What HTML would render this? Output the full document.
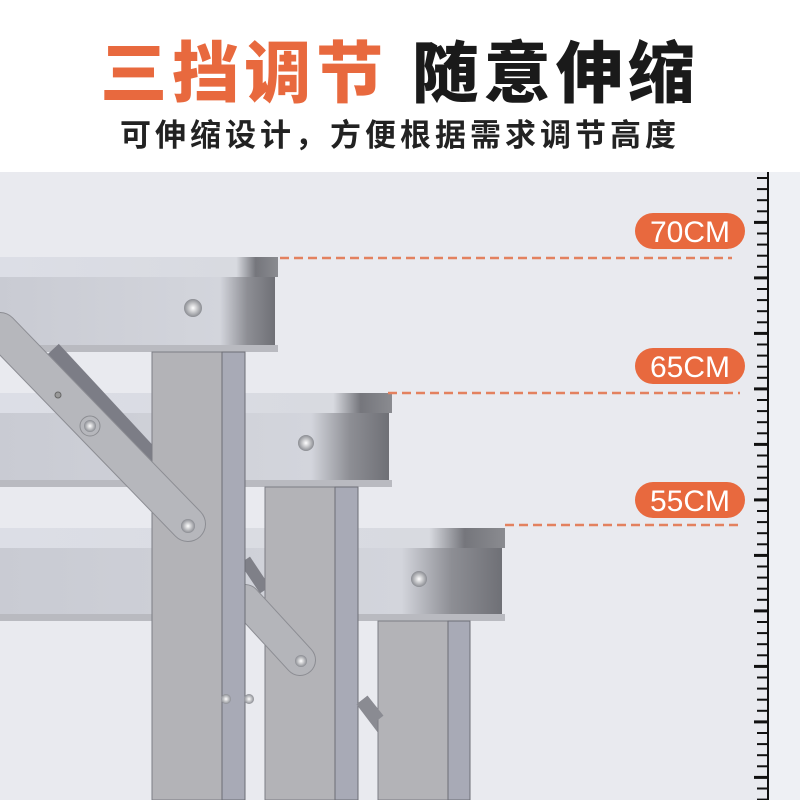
<!DOCTYPE html>
<html><head><meta charset="utf-8"><style>
body{margin:0;width:800px;height:800px;overflow:hidden;background:#e9eaef;font-family:"Liberation Sans","Noto Sans CJK SC",sans-serif}
.top{position:absolute;left:0;top:0;width:800px;height:172px;background:#fff}
.t1{position:absolute;top:20px;left:0;width:800px;text-align:center;font-size:67px;font-weight:900;letter-spacing:5px;white-space:nowrap}
.t2{position:absolute;top:110px;left:0;width:800px;text-align:center;font-size:31px;font-weight:700;letter-spacing:4px;color:#222;white-space:nowrap}
</style></head><body>
<div class="top"></div>
<div class="t1"><span style="color:#e8693e">三挡调节</span>&nbsp;<span style="color:#1a1a1a">随意伸缩</span></div>
<div class="t2">可伸缩设计，方便根据需求调节高度</div>
<svg width="800" height="800" style="position:absolute;left:0;top:0">
<defs>
<linearGradient id="ap" x1="0" x2="1"><stop offset="0" stop-color="#c9cbd3"/><stop offset="0.8" stop-color="#d3d5dc"/><stop offset="0.9" stop-color="#8d8e94"/><stop offset="1" stop-color="#6f7076"/></linearGradient>
<linearGradient id="lip" x1="0" x2="1"><stop offset="0" stop-color="#dcdee6"/><stop offset="0.85" stop-color="#d8dae0"/><stop offset="0.92" stop-color="#75767c"/><stop offset="1" stop-color="#8a8b90"/></linearGradient>
<radialGradient id="bolt"><stop offset="0" stop-color="#fff"/><stop offset="1" stop-color="#8a8c92"/></radialGradient>
</defs>
<rect x="768" y="172" width="32" height="628" fill="#eef0f4"/>
<g>
<rect x="0" y="528" width="505" height="20" fill="url(#lip)"/>
<rect x="0" y="548" width="502" height="66" fill="url(#ap)"/>
<rect x="0" y="614" width="505" height="7" fill="#b9bac0"/>
<circle cx="419" cy="579" r="8" fill="url(#bolt)"/>
<line x1="362" y1="700" x2="430" y2="790" stroke="#8a8b92" stroke-width="14"/>
<rect x="378" y="621" width="70" height="179" fill="#b3b3b7" stroke="#7c7d84"/>
<rect x="448" y="621" width="22" height="179" fill="#a8aab6" stroke="#6d6e76"/>
</g>
<g>
<rect x="0" y="393" width="392" height="20" fill="url(#lip)"/>
<rect x="0" y="413" width="389" height="67" fill="url(#ap)"/>
<rect x="0" y="480" width="392" height="7" fill="#b9bac0"/>
<circle cx="306" cy="443" r="8" fill="url(#bolt)"/>
<line x1="245" y1="560" x2="265" y2="590" stroke="#7f8088" stroke-width="12"/>
<rect x="265" y="487" width="70" height="313" fill="#b3b3b7" stroke="#7c7d84"/>
<rect x="335" y="487" width="23" height="313" fill="#a8aab6" stroke="#6d6e76"/>
<line x1="245" y1="600" x2="300" y2="660" stroke="#8c8d93" stroke-width="32" stroke-linecap="round"/>
<line x1="245" y1="600" x2="300" y2="660" stroke="#b4b5ba" stroke-width="30" stroke-linecap="round"/>
<circle cx="301" cy="661" r="6" fill="url(#bolt)"/>
<line x1="362" y1="700" x2="378" y2="720" stroke="#8a8b92" stroke-width="14"/>
</g>
<g>
<rect x="0" y="257" width="278" height="20" fill="url(#lip)"/>
<rect x="0" y="277" width="275" height="68" fill="url(#ap)"/>
<rect x="0" y="345" width="278" height="7" fill="#b9bac0"/>
<circle cx="193" cy="308" r="9" fill="url(#bolt)"/>
<line x1="50" y1="352" x2="152" y2="462" stroke="#7c7d86" stroke-width="24"/>
<rect x="152" y="352" width="70" height="448" fill="#b3b3b7" stroke="#7c7d84"/>
<rect x="222" y="352" width="23" height="448" fill="#a8aab6" stroke="#6d6e76"/>
<line x1="0" y1="330" x2="188" y2="524" stroke="#8c8d93" stroke-width="36" stroke-linecap="round"/>
<line x1="0" y1="330" x2="188" y2="524" stroke="#b6b7bc" stroke-width="34" stroke-linecap="round"/>
<circle cx="90" cy="426" r="10" fill="#b6b7bc" stroke="#8c8d92"/>
<circle cx="90" cy="426" r="6" fill="url(#bolt)"/>
<circle cx="188" cy="526" r="7" fill="url(#bolt)"/>
<circle cx="58" cy="395" r="3" fill="#999" stroke="#666"/>
<circle cx="226" cy="699" r="5" fill="url(#bolt)"/>
<circle cx="249" cy="699" r="5" fill="url(#bolt)"/>
</g>
<g stroke="#e3815f" stroke-width="2.5" stroke-dasharray="9,5">
<line x1="280" y1="258" x2="732" y2="258"/>
<line x1="388" y1="393" x2="740" y2="393"/>
<line x1="505" y1="525" x2="740" y2="525"/>
</g>
<g font-family="Liberation Sans, sans-serif" font-size="30" fill="#fff" text-anchor="middle">
<rect x="635" y="213" width="110" height="36" rx="18" fill="#e8693e"/><text x="690" y="242">70CM</text>
<rect x="635" y="348" width="110" height="36" rx="18" fill="#e8693e"/><text x="690" y="377">65CM</text>
<rect x="635" y="482" width="110" height="36" rx="18" fill="#e8693e"/><text x="690" y="511">55CM</text>
</g>
<line x1="768" y1="172" x2="768" y2="800" stroke="#111" stroke-width="2"/>
<g stroke="#111" stroke-width="2" id="tk"></g>
</svg>
<script>
var g=document.getElementById('tk'),s='';
for(var i=0;i<60;i++){var y=178+i*11.1;if(y>800)break;var m=(i%5==4);
s+='<line x1="'+(m?754:757)+'" x2="768" y1="'+y.toFixed(1)+'" y2="'+y.toFixed(1)+'" stroke-width="'+(m?3:2)+'"/>';}
g.innerHTML=s;
</script>
</body></html>
